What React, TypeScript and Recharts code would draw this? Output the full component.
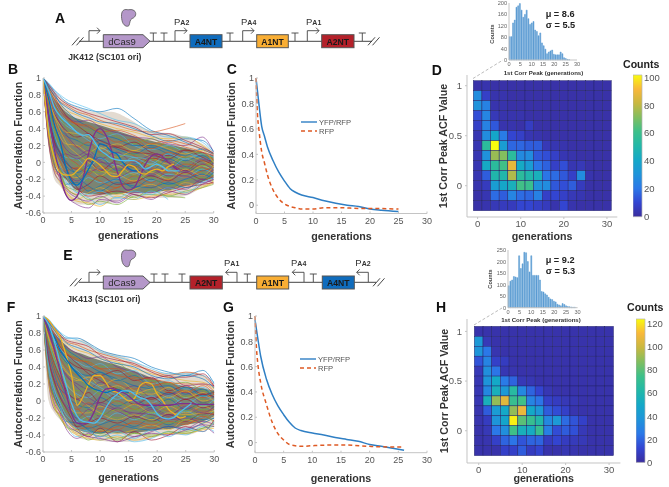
import React from 'react';
import {
    Area,
    Bar,
    BarChart,
    ComposedChart,
    Legend,
    Line,
    LineChart,
    Scatter,
    ScatterChart,
    XAxis,
    YAxis,
} from 'recharts';

// shared x positions of the thin background traces (generations)
const traceGens = [0, 1, 2, 3, 4, 6, 8, 10, 13, 16, 19, 22, 25, 28, 30];
const traceColors = ['#0072BD', '#D95319', '#EDB120', '#7E2F8E', '#77AC30', '#4DBEEF', '#A2142F'];

const bandGens = [0, 1, 2, 3, 4, 5, 7, 9, 12, 15, 18, 20, 23, 25, 28, 30];
const bOuterHigh = [1, 0.93, 0.84, 0.77, 0.72, 0.68, 0.63, 0.6, 0.6, 0.52, 0.4, 0.36, 0.34, 0.3, 0.22, 0.13];
const bOuterLow = [1, 0.2, -0.2, -0.28, -0.38, -0.46, -0.5, -0.5, -0.48, -0.42, -0.42, -0.42, -0.42, -0.4, -0.3, -0.25];
const bInnerHigh = [1, 0.88, 0.76, 0.67, 0.6, 0.55, 0.5, 0.46, 0.4, 0.33, 0.27, 0.24, 0.2, 0.17, 0.12, 0.08];
const bInnerLow = [1, 0.3, 0, -0.12, -0.2, -0.28, -0.36, -0.38, -0.38, -0.36, -0.36, -0.35, -0.32, -0.28, -0.23, -0.18];
const fOuterHigh = [1, 0.95, 0.87, 0.8, 0.74, 0.72, 0.72, 0.63, 0.56, 0.5, 0.4, 0.34, 0.33, 0.34, 0.3, 0.2];
const fOuterLow = [1, 0.0, -0.14, -0.22, -0.3, -0.36, -0.45, -0.46, -0.48, -0.48, -0.46, -0.42, -0.4, -0.4, -0.34, -0.3];
const fInnerHigh = [1, 0.9, 0.8, 0.72, 0.66, 0.6, 0.55, 0.5, 0.44, 0.38, 0.3, 0.25, 0.2, 0.17, 0.15, 0.12];
const fInnerLow = [1, 0.25, 0.02, -0.1, -0.2, -0.28, -0.36, -0.38, -0.38, -0.38, -0.36, -0.34, -0.32, -0.28, -0.24, -0.18];

const bTraces = [
    [1, 0.93, 0.85, 0.78, 0.72, 0.66, 0.62, 0.6, 0.64, 0.52, 0.38, 0.32, 0.24, 0.15, 0.1],
    [1, 0.9, 0.8, 0.72, 0.68, 0.6, 0.56, 0.5, 0.44, 0.38, 0.36, 0.4, 0.46, null, null],
    [1, 0.88, 0.76, 0.68, 0.62, 0.56, 0.5, 0.46, 0.4, 0.36, 0.3, 0.28, 0.3, 0.2, 0.1],
    [1, 0.85, 0.7, 0.6, 0.55, 0.48, 0.5, 0.42, 0.35, 0.3, 0.28, 0.22, 0.2, 0.3, 0.12],
    [1, 0.82, 0.66, 0.55, 0.48, 0.42, 0.38, 0.4, 0.3, 0.22, 0.28, 0.18, 0.15, 0.1, 0.05],
    [1, 0.8, 0.6, 0.5, 0.44, 0.36, 0.3, 0.28, 0.34, 0.2, 0.15, 0.2, 0.12, 0.05, 0.02],
    [1, 0.78, 0.58, 0.46, 0.38, 0.3, 0.34, 0.22, 0.18, 0.24, 0.12, 0.08, 0.15, 0.06, 0],
    [1, 0.75, 0.52, 0.4, 0.32, 0.26, 0.2, 0.26, 0.16, 0.1, 0.18, 0.1, 0.02, 0.08, -0.02],
    [1, 0.72, 0.5, 0.36, 0.3, 0.18, 0.24, 0.12, 0.2, 0.08, 0.02, 0.12, 0.05, -0.03, 0.04],
    [1, 0.7, 0.46, 0.3, 0.22, 0.2, 0.12, 0.18, 0.06, 0.14, 0.06, -0.02, 0.08, 0.02, -0.05],
    [1, 0.66, 0.42, 0.28, 0.16, 0.08, 0.14, 0.04, 0.12, 0, 0.08, 0.02, -0.06, 0.04, -0.02],
    [1, 0.62, 0.36, 0.22, 0.14, 0.02, 0.08, -0.02, 0.06, 0.1, -0.04, 0.06, 0, -0.08, 0.03],
    [1, 0.6, 0.32, 0.16, 0.06, 0.04, -0.06, 0.05, -0.04, 0.06, 0.02, -0.08, 0.04, -0.04, -0.08],
    [1, 0.56, 0.26, 0.12, 0, -0.08, 0.02, -0.1, 0.02, -0.06, 0.05, 0, -0.1, 0.02, -0.04],
    [1, 0.52, 0.22, 0.06, -0.04, -0.12, -0.04, 0.06, -0.1, -0.02, -0.1, 0.04, -0.05, -0.1, -0.06],
    [1, 0.48, 0.18, 0.02, -0.1, -0.06, -0.14, -0.04, -0.12, 0.02, -0.06, -0.12, -0.02, -0.06, -0.12],
    [1, 0.44, 0.14, -0.02, -0.14, -0.18, -0.08, -0.16, -0.04, -0.14, -0.02, -0.08, -0.14, -0.04, -0.1],
    [1, 0.4, 0.1, -0.06, -0.12, -0.22, -0.12, -0.08, -0.18, -0.1, -0.16, -0.06, -0.1, -0.16, -0.08],
    [1, 0.36, 0.05, -0.1, -0.2, -0.14, -0.22, -0.18, -0.1, -0.2, -0.1, -0.18, -0.06, -0.12, -0.16],
    [1, 0.32, 0.02, -0.12, -0.24, -0.28, -0.18, -0.24, -0.2, -0.12, -0.22, -0.14, -0.18, -0.08, -0.14],
    [1, 0.28, -0.02, -0.16, -0.18, -0.32, -0.26, -0.16, -0.26, -0.24, -0.16, -0.22, -0.12, -0.2, -0.18],
    [1, 0.25, -0.05, -0.14, -0.26, -0.24, -0.34, -0.28, -0.2, -0.3, -0.2, -0.26, -0.2, -0.14, -0.2],
    [1, 0.22, -0.08, -0.18, -0.3, -0.38, -0.3, -0.36, -0.3, -0.22, -0.3, -0.2, -0.28, -0.22, -0.16],
    [1, 0.35, 0, -0.1, -0.34, -0.44, -0.36, -0.3, -0.38, -0.32, -0.26, -0.34, -0.24, -0.28, -0.22],
    [1, 0.3, -0.03, -0.2, -0.38, -0.5, -0.54, -0.44, -0.46, -0.36, -0.36, -0.3, -0.32, -0.2, -0.25],
    [1, 0.4, 0.08, -0.08, -0.28, -0.4, -0.5, -0.46, -0.5, -0.4, -0.38, -0.4, -0.42, null, null],
    [1, 0.45, 0.12, -0.05, -0.16, -0.36, -0.42, -0.5, -0.42, -0.44, -0.34, -0.44, null, null, null],
    [1, 0.55, 0.24, 0.1, -0.06, -0.3, -0.4, -0.38, -0.34, -0.38, -0.42, -0.36, -0.3, -0.26, -0.24],
    [1, 0.6, 0.3, 0.1, 0.02, -0.16, -0.28, -0.34, -0.24, -0.28, -0.3, -0.24, -0.3, -0.22, -0.12],
    [1, 0.68, 0.44, 0.26, 0.1, -0.02, -0.14, -0.22, -0.3, -0.16, -0.24, -0.1, -0.18, -0.1, -0.06],
    [1, 0.74, 0.54, 0.38, 0.24, 0.1, 0, -0.1, -0.14, -0.22, -0.12, -0.2, -0.08, -0.16, -0.04],
    [1, 0.8, 0.62, 0.46, 0.34, 0.18, 0.08, 0.02, -0.08, -0.04, -0.14, -0.04, -0.12, -0.02, -0.1],
    [1, 0.84, 0.68, 0.54, 0.42, 0.28, 0.16, 0.1, 0.02, -0.06, 0.04, -0.06, 0.06, -0.04, 0.02],
    [1, 0.86, 0.72, 0.6, 0.5, 0.36, 0.26, 0.18, 0.1, 0.06, -0.02, 0.1, 0.04, 0.1, 0.06],
    [1, 0.89, 0.78, 0.66, 0.56, 0.44, 0.34, 0.26, 0.18, 0.12, 0.1, 0.04, 0.14, 0.12, 0.08],
    [1, 0.91, 0.82, 0.7, 0.62, 0.5, 0.42, 0.34, 0.28, 0.2, 0.2, 0.14, 0.08, 0.16, 0.1],
    [1, 0.87, 0.74, 0.62, 0.54, 0.46, 0.44, 0.36, 0.24, 0.28, 0.16, 0.24, 0.18, 0.12, 0.03],
    [1, 0.77, 0.56, 0.44, 0.36, 0.34, 0.3, 0.16, 0.22, 0.14, 0.22, 0.16, 0.1, 0.14, -0.01],
    [1, 0.5, 0.2, 0.08, 0.1, 0.04, 0.1, 0, -0.02, -0.1, -0.08, -0.16, -0.16, -0.24, -0.2],
    [1, 0.65, 0.4, 0.2, 0.08, -0.04, -0.1, -0.12, -0.06, -0.16, -0.18, -0.28, -0.22, -0.18, -0.22],
    [1, 0.94, 0.86, 0.8, 0.75, 0.69, 0.64, 0.58, 0.5, 0.46, 0.36, 0.3, 0.3, 0.24, 0.12],
    [1, 0.92, 0.83, 0.75, 0.7, 0.63, 0.58, 0.54, 0.48, 0.42, 0.33, 0.34, 0.26, 0.18, 0.11],
    [1, 0.89, 0.79, 0.71, 0.66, 0.58, 0.53, 0.48, 0.46, 0.4, 0.32, 0.25, 0.28, 0.26, 0.13],
    [1, 0.84, 0.69, 0.59, 0.52, 0.45, 0.42, 0.36, 0.38, 0.32, 0.22, 0.26, 0.22, 0.16, 0.09],
    [1, 0.28, -0.1, -0.24, -0.36, -0.46, -0.48, -0.52, -0.4, -0.44, -0.4, -0.38, -0.36, -0.3, -0.24],
    [1, 0.25, -0.12, -0.22, -0.32, -0.42, -0.46, -0.4, -0.48, -0.38, -0.44, -0.34, -0.38, -0.26, -0.2],
    [1, 0.34, -0.04, -0.14, -0.28, -0.34, -0.44, -0.42, -0.36, -0.42, -0.32, -0.4, -0.34, -0.3, -0.26],
    [1, 0.38, 0.04, -0.12, -0.22, -0.36, -0.38, -0.34, -0.42, -0.34, -0.38, -0.3, -0.36, -0.24, -0.18],
];

const fTraces = [
    [1, 0.95, 0.87, 0.8, 0.74, 0.74, 0.68, 0.6, 0.54, 0.5, 0.4, 0.34, 0.3, 0.36, 0.2],
    [1, 0.93, 0.85, 0.78, 0.7, 0.66, 0.6, 0.56, 0.5, 0.42, 0.36, 0.3, 0.34, 0.3, 0.16],
    [1, 0.91, 0.82, 0.74, 0.68, 0.6, 0.56, 0.5, 0.46, 0.38, 0.32, 0.28, 0.24, 0.22, 0.14],
    [1, 0.9, 0.8, 0.7, 0.64, 0.56, 0.5, 0.52, 0.4, 0.34, 0.26, 0.3, 0.18, 0.2, 0.18],
    [1, 0.88, 0.76, 0.66, 0.6, 0.5, 0.46, 0.4, 0.44, 0.3, 0.24, 0.2, 0.22, 0.12, 0.1],
    [1, 0.86, 0.72, 0.62, 0.54, 0.46, 0.4, 0.44, 0.32, 0.36, 0.2, 0.24, 0.14, 0.16, 0.06],
    [1, 0.84, 0.7, 0.58, 0.5, 0.4, 0.36, 0.3, 0.36, 0.24, 0.28, 0.12, 0.18, 0.08, 0.1],
    [1, 0.82, 0.66, 0.54, 0.46, 0.34, 0.3, 0.34, 0.24, 0.3, 0.16, 0.18, 0.08, 0.14, 0.02],
    [1, 0.8, 0.62, 0.5, 0.4, 0.3, 0.24, 0.28, 0.2, 0.14, 0.22, 0.1, 0.12, 0.04, 0.08],
    [1, 0.78, 0.6, 0.46, 0.36, 0.24, 0.28, 0.18, 0.26, 0.12, 0.08, 0.16, 0.04, 0.1, -0.02],
    [1, 0.76, 0.56, 0.42, 0.3, 0.2, 0.14, 0.22, 0.1, 0.18, 0.04, 0.08, 0.1, -0.02, 0.04],
    [1, 0.72, 0.52, 0.38, 0.26, 0.12, 0.18, 0.08, 0.16, 0.04, 0.12, 0, 0.06, 0.02, -0.06],
    [1, 0.7, 0.48, 0.32, 0.2, 0.08, 0.04, 0.12, 0.02, 0.1, -0.02, 0.06, -0.04, 0.06, 0],
    [1, 0.66, 0.44, 0.28, 0.14, 0.02, 0.1, -0.02, 0.08, -0.04, 0.04, -0.06, 0.02, -0.08, -0.04],
    [1, 0.62, 0.38, 0.22, 0.08, -0.04, -0.08, 0.04, -0.06, 0.02, -0.08, 0.02, -0.1, -0.02, -0.08],
    [1, 0.58, 0.34, 0.16, 0.04, -0.1, -0.02, -0.1, 0, -0.1, -0.02, -0.12, -0.04, -0.12, -0.1],
    [1, 0.54, 0.28, 0.1, -0.02, -0.14, -0.14, -0.06, -0.12, -0.04, -0.14, -0.06, -0.14, -0.06, -0.12],
    [1, 0.5, 0.24, 0.06, -0.06, -0.2, -0.1, -0.18, -0.08, -0.16, -0.08, -0.16, -0.08, -0.16, -0.06],
    [1, 0.46, 0.2, 0.02, -0.12, -0.16, -0.22, -0.14, -0.2, -0.1, -0.18, -0.1, -0.18, -0.1, -0.14],
    [1, 0.42, 0.14, -0.02, -0.16, -0.24, -0.18, -0.26, -0.14, -0.22, -0.14, -0.22, -0.12, -0.2, -0.1],
    [1, 0.38, 0.1, -0.06, -0.2, -0.3, -0.26, -0.2, -0.26, -0.18, -0.24, -0.16, -0.24, -0.14, -0.16],
    [1, 0.34, 0.06, -0.1, -0.24, -0.26, -0.32, -0.28, -0.22, -0.3, -0.2, -0.28, -0.18, -0.22, -0.2],
    [1, 0.3, 0.02, -0.14, -0.22, -0.34, -0.3, -0.36, -0.3, -0.26, -0.32, -0.24, -0.28, -0.18, -0.24],
    [1, 0.26, -0.04, -0.18, -0.28, -0.38, -0.4, -0.34, -0.38, -0.34, -0.28, -0.34, -0.22, -0.26, -0.18],
    [1, 0.2, -0.1, -0.16, -0.32, -0.44, -0.38, -0.42, -0.34, -0.42, -0.36, -0.3, -0.32, -0.24, -0.28],
    [1, 0.24, -0.06, -0.2, -0.3, -0.36, -0.46, -0.4, -0.46, -0.38, -0.4, -0.38, -0.36, -0.32, -0.3],
    [1, 0.4, 0.12, -0.04, -0.26, -0.42, -0.34, -0.46, -0.4, -0.48, -0.44, -0.36, -0.4, -0.3, -0.36],
    [1, 0.48, 0.22, 0.04, -0.08, -0.32, -0.42, -0.32, -0.48, -0.36, -0.46, -0.4, -0.3, -0.36, -0.22],
    [1, 0.56, 0.3, 0.12, -0.02, -0.22, -0.34, -0.38, -0.28, -0.32, -0.34, -0.3, -0.34, -0.26, -0.2],
    [1, 0.64, 0.4, 0.24, 0.1, -0.08, -0.22, -0.3, -0.34, -0.24, -0.28, -0.2, -0.26, -0.2, -0.14],
    [1, 0.74, 0.54, 0.36, 0.22, 0.06, -0.06, -0.14, -0.22, -0.16, -0.22, -0.14, -0.16, -0.14, -0.12],
    [1, 0.79, 0.6, 0.44, 0.32, 0.16, 0.04, -0.04, -0.12, -0.2, -0.1, -0.18, -0.06, -0.14, -0.06],
    [1, 0.83, 0.68, 0.54, 0.44, 0.28, 0.16, 0.08, -0.02, -0.08, -0.14, -0.04, -0.12, -0.02, -0.08],
    [1, 0.85, 0.72, 0.6, 0.48, 0.36, 0.24, 0.16, 0.06, 0, 0.06, -0.06, 0.04, -0.06, 0.02],
    [1, 0.87, 0.76, 0.64, 0.56, 0.44, 0.32, 0.24, 0.14, 0.08, 0.02, 0.1, 0.02, 0.08, 0.05],
    [1, 0.92, 0.84, 0.72, 0.62, 0.52, 0.42, 0.34, 0.26, 0.18, 0.14, 0.08, 0.16, 0.06, 0.12],
    [1, 0.89, 0.78, 0.68, 0.58, 0.48, 0.46, 0.38, 0.3, 0.26, 0.18, 0.22, 0.1, 0.18, 0.07],
    [1, 0.75, 0.58, 0.44, 0.34, 0.26, 0.2, 0.12, 0.18, 0.08, 0.14, 0.04, 0.12, 0, 0.03],
    [1, 0.52, 0.26, 0.14, 0.08, 0.02, -0.04, -0.02, -0.1, -0.14, -0.16, -0.22, -0.2, -0.28, -0.38],
    [1, 0.68, 0.46, 0.3, 0.16, 0, -0.12, -0.16, -0.1, -0.2, -0.24, -0.26, -0.22, -0.16, -0.26],
    [1, 0.96, 0.88, 0.81, 0.76, 0.72, 0.66, 0.58, 0.52, 0.46, 0.38, 0.32, 0.32, 0.3, 0.22],
    [1, 0.94, 0.86, 0.77, 0.72, 0.68, 0.64, 0.54, 0.48, 0.44, 0.34, 0.28, 0.28, 0.32, 0.17],
    [1, 0.92, 0.83, 0.76, 0.69, 0.63, 0.58, 0.5, 0.44, 0.4, 0.3, 0.26, 0.3, 0.26, 0.15],
    [1, 0.86, 0.74, 0.64, 0.56, 0.5, 0.44, 0.38, 0.38, 0.28, 0.26, 0.22, 0.2, 0.2, 0.11],
    [1, 0.22, -0.08, -0.18, -0.3, -0.4, -0.44, -0.46, -0.42, -0.46, -0.42, -0.38, -0.38, -0.34, -0.32],
    [1, 0.28, -0.02, -0.14, -0.26, -0.36, -0.42, -0.44, -0.48, -0.42, -0.38, -0.4, -0.34, -0.28, -0.3],
    [1, 0.32, 0.04, -0.12, -0.22, -0.34, -0.4, -0.38, -0.44, -0.38, -0.42, -0.36, -0.38, -0.32, -0.26],
    [1, 0.36, 0.08, -0.08, -0.2, -0.32, -0.36, -0.42, -0.36, -0.44, -0.34, -0.42, -0.32, -0.36, -0.24],
];

// the four emphasised traces, one value per generation
const bPurple = [1, 0.55, 0.15, -0.15, -0.38, -0.45, -0.4, -0.2, 0.1, 0.33, 0.4, 0.33, 0.15, -0.1, -0.28, -0.33, -0.3, -0.17, -0.02, 0.07, 0.1, 0.07, 0, -0.05, -0.12];
const bBlue = [1, 0.75, 0.45, 0.25, -0.05, -0.22, -0.27, -0.2, -0.08, 0.05, 0.22, 0.2, 0.13, 0.1, 0, -0.07, -0.1, -0.1];
const bYellow = [1, 0.35, 0.05, -0.12, -0.15, -0.15, -0.1, -0.03, 0.05, 0.02, -0.03, -0.1, -0.16, -0.17, -0.1, -0.03, -0.05, -0.12, -0.14, -0.1, -0.08, -0.1, -0.05, -0.02];
const bCyan = [1, 0.85, 0.65, 0.55, 0.48, 0.42, 0.35, 0.32, 0.33, 0.25, 0.15, 0.1, 0.05, 0.03, 0.02, 0.02, 0.02, -0.02, -0.08, -0.05, -0.02, -0.05, -0.1, -0.1, -0.1];
const fPurple = [1, 0.82, 0.6, 0.35, 0.1, -0.15, -0.26, -0.27, -0.24, -0.12, 0.05, 0.14, 0.15, 0.12, 0.1, 0.06, 0, -0.04, -0.05, -0.05, -0.05, -0.05, -0.05, -0.04, -0.03, -0.03, -0.03, -0.04, -0.04, -0.04, -0.04];
const fBlue = [1, 0.85, 0.75, 0.6, 0.5, 0.4, 0.32, 0.25, 0.18, 0.14, 0.12, 0.1, 0.12, 0.13, 0.12, 0.1];
const fYellow = [1, 0.95, 0.85, 0.75, 0.55, 0.3, -0.05, 0.05, 0.2, 0.3, 0.3, 0.22, 0.12, 0.1, 0.05, 0, 0.03, 0.18, 0.22, 0.2, 0.08, 0, -0.1, -0.15, -0.2, -0.18];
const fCyan = [1, 0.9, 0.7, 0.45, 0.2, -0.03, -0.18, -0.24, -0.25, -0.26, -0.2, -0.08, 0.02, 0.08, 0.12, 0.12, 0.08, 0.04, 0.02, -0.05, -0.15, -0.2, -0.21, -0.19, -0.13, -0.08, -0.03];

// mean ACF curves
const cYfpGens = [0, 0.5, 1, 1.5, 2, 3, 4, 5, 6, 7, 8, 10, 12, 14, 16, 18, 20, 22, 25];
const cYfp = [1, 0.8, 0.62, 0.54, 0.46, 0.35, 0.26, 0.19, 0.13, 0.1, 0.08, 0.06, 0.035, 0.015, 0, -0.01, -0.03, -0.04, -0.05];
const cRfpGens = [0, 0.25, 0.5, 1, 1.5, 2, 3, 4, 5, 6, 7, 8, 10, 12, 15, 18, 20, 25];
const cRfp = [1, 0.72, 0.6, 0.42, 0.33, 0.24, 0.12, 0.05, 0.01, -0.01, -0.02, -0.03, -0.03, -0.02, -0.02, -0.025, -0.025, -0.03];
const gYfpGens = [0, 0.5, 1, 2, 3, 4, 5, 6, 7, 8, 10, 12, 14, 16, 18, 20, 22, 24, 26];
const gYfp = [0.97, 0.82, 0.68, 0.5, 0.38, 0.29, 0.22, 0.16, 0.115, 0.095, 0.075, 0.06, 0.04, 0.025, 0.01, -0.015, -0.03, -0.045, -0.06];
const gRfpGens = [0, 0.25, 0.5, 1, 2, 3, 4, 5, 6, 7, 8, 10, 13, 16, 20, 24, 26];
const gRfp = [1, 0.75, 0.62, 0.47, 0.3, 0.16, 0.07, 0.02, -0.015, -0.025, -0.03, -0.025, -0.02, -0.02, -0.03, -0.035, -0.035];

// 2D histogram bins: rows run from ACF 1.0 down to -0.2, columns from 0 to 30 generations
const heatGens = [0, 2, 4, 6, 8, 10, 12, 14, 16, 18, 20, 22, 24, 26, 28, 30];
const heatAcf = [1, 0.9, 0.8, 0.7, 0.6, 0.5, 0.4, 0.3, 0.2, 0.1, 0, -0.1, -0.2];
const dCounts = [
    [2, 3, 2, 2, 2, 2, 2, 2, 2, 2, 2, 2, 2, 2, 2, 2],
    [28, 8, 3, 3, 2, 2, 2, 2, 2, 2, 2, 2, 2, 2, 2, 2],
    [30, 24, 3, 3, 2, 2, 2, 2, 2, 2, 2, 2, 2, 2, 2, 2],
    [12, 25, 5, 3, 3, 3, 2, 2, 2, 2, 2, 2, 2, 2, 2, 2],
    [8, 24, 14, 3, 3, 2, 7, 2, 2, 2, 2, 2, 2, 2, 2, 2],
    [4, 28, 40, 22, 10, 8, 4, 3, 2, 2, 2, 2, 2, 2, 2, 2],
    [4, 55, 102, 35, 17, 17, 15, 15, 5, 4, 3, 2, 2, 2, 2, 2],
    [4, 30, 75, 72, 55, 27, 28, 14, 12, 8, 4, 3, 2, 2, 2, 2],
    [4, 42, 55, 62, 88, 42, 35, 20, 16, 8, 12, 4, 5, 2, 2, 2],
    [4, 15, 50, 50, 78, 55, 50, 45, 20, 18, 14, 8, 28, 3, 2, 2],
    [3, 6, 35, 40, 45, 62, 60, 30, 28, 14, 12, 15, 6, 2, 2, 2],
    [2, 4, 18, 15, 25, 18, 17, 24, 8, 10, 8, 5, 4, 2, 2, 2],
    [2, 3, 5, 6, 6, 10, 10, 8, 6, 3, 10, 3, 2, 2, 2, 2],
];
const hCounts = [
    [3, 3, 3, 3, 3, 3, 3, 3, 3, 3, 3, 3, 3, 3, 3, 3],
    [40, 6, 3, 3, 3, 3, 3, 3, 3, 3, 3, 3, 3, 3, 3, 3],
    [38, 25, 4, 3, 3, 3, 3, 3, 3, 3, 3, 3, 3, 3, 3, 3],
    [16, 30, 10, 8, 3, 3, 3, 3, 3, 3, 3, 3, 3, 3, 3, 3],
    [6, 35, 24, 5, 4, 3, 3, 3, 3, 3, 3, 3, 3, 3, 3, 3],
    [5, 38, 50, 26, 20, 6, 5, 3, 3, 3, 3, 3, 3, 3, 3, 3],
    [5, 32, 55, 40, 65, 32, 20, 12, 5, 3, 3, 3, 3, 3, 3, 3],
    [5, 55, 90, 105, 72, 75, 30, 24, 10, 8, 6, 5, 3, 3, 3, 3],
    [4, 18, 42, 50, 90, 108, 50, 40, 18, 14, 10, 4, 3, 3, 3, 3],
    [4, 8, 38, 48, 122, 80, 72, 62, 32, 40, 22, 16, 10, 3, 3, 3],
    [3, 6, 25, 35, 75, 55, 52, 72, 28, 14, 18, 15, 6, 3, 3, 3],
    [3, 4, 10, 20, 24, 16, 20, 20, 8, 12, 8, 7, 6, 3, 3, 3],
    [3, 3, 3, 10, 10, 18, 8, 12, 3, 3, 5, 4, 3, 3, 3, 3],
];

// inset histograms of the first peak position, bins 0.75 generations wide
const histGens = [0.375, 1.125, 1.875, 2.625, 3.375, 4.125, 4.875, 5.625, 6.375, 7.125, 7.875, 8.625, 9.375, 10.125, 10.875, 11.625, 12.375, 13.125, 13.875, 14.625, 15.375, 16.125, 16.875, 17.625, 18.375, 19.125, 19.875, 20.625, 21.375, 22.125, 22.875, 23.625, 24.375, 25.125, 25.875, 26.625, 27.375, 28.125, 28.875];
const dHist = [82, 82, 130, 140, 185, 190, 198, 175, 150, 160, 175, 145, 125, 130, 135, 105, 100, 85, 95, 60, 50, 38, 22, 28, 32, 35, 20, 18, 18, 18, 28, 22, 8, 5, 2, 1, 0, 0, 0];
const hHist = [95, 115, 120, 135, 133, 130, 225, 170, 190, 240, 238, 200, 155, 225, 140, 140, 140, 140, 120, 70, 68, 60, 55, 45, 38, 35, 28, 25, 15, 12, 8, 18, 14, 8, 5, 4, 3, 2, 2];

const acfTicks = [-0.6, -0.4, -0.2, 0, 0.2, 0.4, 0.6, 0.8, 1];
const decayTicks = [0, 0.2, 0.4, 0.6, 0.8, 1];
const genTicks = [0, 5, 10, 15, 20, 25, 30];
const heatGenTicks = [0, 10, 20, 30];
const heatAcfTicks = [0, 0.5, 1];
const dBarTicks = [0, 20, 40, 60, 80, 100];
const hBarTicks = [0, 20, 40, 60, 80, 100, 120];
const dHistTicks = [0, 40, 80, 120, 160, 200];
const hHistTicks = [0, 50, 100, 150, 200, 250];

const FONT = '"Liberation Sans", Arial, sans-serif';
const tickStyle = { fontSize: 9, fill: '#555', fontFamily: FONT };
const labelStyle = { fontSize: 10.7, fontWeight: 700, fill: '#333', fontFamily: FONT, textAnchor: 'middle' as const };
const BOX = '#c4c4c4';

const parulaStops = ['#3A2D9E', '#3345D2', '#2B78E8', '#1F94DA', '#14A8C8', '#22B8A8', '#3CC08A', '#80BE60', '#C8B840', '#F9B83A', '#F9FB0E'];

function parula(t: number) {
    const p = Math.min(Math.max(t, 0), 1) * (parulaStops.length - 1);
    const i = Math.min(Math.floor(p), parulaStops.length - 2);
    const f = p - i;
    const a = parseInt(parulaStops[i].slice(1), 16);
    const b = parseInt(parulaStops[i + 1].slice(1), 16);
    const mix = (s: number) => Math.round(((a >> s) & 255) * (1 - f) + ((b >> s) & 255) * f);
    return `rgb(${mix(16)},${mix(8)},${mix(0)})`;
}

const toRows = (xs: number[], ys: (number | null)[]) =>
    xs.map((x, i) => ({ x, y: ys[i] })).filter((r) => r.y !== null);

const perGen = (ys: number[]) => ys.map((y, i) => ({ x: i, y }));

const PAD_LEFT = 44;
const PAD_TOP = 6;
const PAD_RIGHT = 8;
const AXIS_H = 34;

// places a chart so that its plot area falls on the given page rectangle
const place = (l: number, t: number, r: number, b: number) => ({
    wrap: { position: 'absolute' as const, left: l - PAD_LEFT, top: t - PAD_TOP },
    width: r - l + PAD_LEFT + PAD_RIGHT,
    height: b - t + PAD_TOP + AXIS_H,
    margin: { top: PAD_TOP, right: PAD_RIGHT, bottom: 0, left: 0 },
});

function boxAxes(xDomain: number[], yDomain: number[], xTicks: number[], yTicks: number[]) {
    return [
        <XAxis key="tx" xAxisId="top" orientation="top" type="number" domain={xDomain} ticks={xTicks} height={0} stroke={BOX} tick={false} tickSize={-2} />,
        <YAxis key="ry" yAxisId="right" orientation="right" type="number" domain={yDomain} ticks={yTicks} width={0} stroke={BOX} tick={false} tickSize={-2} />,
    ];
}

function SpaghettiPanel({ rect, high, low, innerHigh, innerLow, traces, lines, xLabelOffset }: any) {
    const p = place(rect[0], rect[1], rect[2], rect[3]);
    const outer = bandGens.map((x, i) => ({ x, range: [low[i], high[i]] }));
    const inner = bandGens.map((x, i) => ({ x, range: [innerLow[i], innerHigh[i]] }));
    return (
        <div style={p.wrap}>
            <ComposedChart width={p.width} height={p.height} margin={p.margin}>
                {boxAxes([0, 30], [-0.6, 1], genTicks, acfTicks)}
                <XAxis
                    dataKey="x"
                    type="number"
                    domain={[0, 30]}
                    ticks={genTicks}
                    height={AXIS_H}
                    stroke={BOX}
                    tickSize={-2}
                    tickMargin={6}
                    tick={tickStyle}
                    allowDataOverflow
                    label={{ value: 'generations', position: 'insideBottom', offset: xLabelOffset, style: labelStyle }}
                />
                <YAxis
                    type="number"
                    domain={[-0.6, 1]}
                    ticks={acfTicks}
                    width={PAD_LEFT}
                    stroke={BOX}
                    tickSize={-2}
                    tickMargin={4}
                    tick={tickStyle}
                    allowDataOverflow
                    label={{ value: 'Autocorrelation Function', angle: -90, position: 'insideLeft', offset: 19, style: labelStyle }}
                />
                <Area data={outer} dataKey="range" type="monotone" stroke="none" fill="#b8a68c" fillOpacity={0.4} dot={false} isAnimationActive={false} />
                <Area data={inner} dataKey="range" type="monotone" stroke="none" fill="#6f7a68" fillOpacity={0.9} dot={false} isAnimationActive={false} />
                {traces.map((t: (number | null)[], i: number) => (
                    <Line
                        key={i}
                        data={toRows(traceGens, t)}
                        dataKey="y"
                        type="monotone"
                        stroke={traceColors[i % traceColors.length]}
                        strokeWidth={0.8}
                        strokeOpacity={0.75}
                        dot={false}
                        isAnimationActive={false}
                    />
                ))}
                {lines.map((l: any) => (
                    <Line
                        key={l.color}
                        data={perGen(l.values)}
                        dataKey="y"
                        type="monotone"
                        stroke={l.color}
                        strokeWidth={1.3}
                        dot={false}
                        isAnimationActive={false}
                    />
                ))}
            </ComposedChart>
        </div>
    );
}

function DecayPanel({ rect, yMin, yfp, rfp, legendTop, xLabelOffset }: any) {
    const p = place(rect[0], rect[1], rect[2], rect[3]);
    const boxTicks = [-0.05, 0, 0.05, 0.1, 0.2, 0.3, 0.4, 0.5, 0.6, 0.7, 0.8, 0.9, 1].filter((v) => v > yMin);
    return (
        <div style={p.wrap}>
            <LineChart width={p.width} height={p.height} margin={p.margin}>
                {boxAxes([0, 30], [yMin, 1], genTicks, boxTicks)}
                <XAxis
                    dataKey="x"
                    type="number"
                    domain={[0, 30]}
                    ticks={genTicks}
                    height={AXIS_H}
                    stroke={BOX}
                    tickSize={-2}
                    tickMargin={6}
                    tick={tickStyle}
                    label={{ value: 'generations', position: 'insideBottom', offset: xLabelOffset, style: labelStyle }}
                />
                <YAxis
                    type="number"
                    domain={[yMin, 1]}
                    ticks={decayTicks}
                    width={PAD_LEFT}
                    stroke={BOX}
                    tickSize={-2}
                    tickMargin={4}
                    tick={tickStyle}
                    label={{ value: 'Autocorrelation Function', angle: -90, position: 'insideLeft', offset: 19, style: labelStyle }}
                />
                <Line data={yfp} dataKey="y" name="YFP/RFP" type="monotone" stroke="#2F7FC4" strokeWidth={1.5} dot={false} isAnimationActive={false} />
                <Line data={rfp} dataKey="y" name="RFP" type="monotone" stroke="#DE5A24" strokeWidth={1.5} strokeDasharray="4 3" dot={false} isAnimationActive={false} />
                <Legend
                    layout="vertical"
                    align="center"
                    verticalAlign="middle"
                    itemSorter={null}
                    wrapperStyle={{ left: 88, top: legendTop, width: 70 }}
                    content={(lp: any) => (
                        <svg width={70} height={20} style={{ display: 'block' }}>
                            {lp.payload.map((item: any, i: number) => (
                                <g key={item.value}>
                                    <line
                                        x1={1}
                                        x2={17}
                                        y1={5 + i * 9}
                                        y2={5 + i * 9}
                                        stroke={item.color}
                                        strokeWidth={1.4}
                                        strokeDasharray={i === 1 ? '4 3' : undefined}
                                    />
                                    <text x={19} y={7.8 + i * 9} fontSize={7.6} fill="#555" fontFamily={FONT}>
                                        {item.value}
                                    </text>
                                </g>
                            ))}
                        </svg>
                    )}
                />
            </LineChart>
        </div>
    );
}

function HeatPanel({ rect, xDomain, yDomain, counts, max, cellW, cellH, xLabelOffset, yLabelOffset }: any) {
    const p = place(rect[0], rect[1], rect[2], rect[3]);
    const cells = counts.flatMap((row: number[], r: number) =>
        row.map((c, k) => ({ x: heatGens[k], y: heatAcf[r], c })),
    );
    return (
        <div style={p.wrap}>
            <ScatterChart width={p.width} height={p.height} margin={p.margin}>
                <XAxis
                    dataKey="x"
                    type="number"
                    domain={xDomain}
                    ticks={heatGenTicks}
                    height={AXIS_H}
                    stroke={BOX}
                    tickSize={2}
                    tickMargin={1}
                    tick={{ ...tickStyle, fontSize: 9.5 }}
                    allowDataOverflow
                    label={{ value: 'generations', position: 'insideBottom', offset: xLabelOffset, style: labelStyle }}
                />
                <YAxis
                    dataKey="y"
                    type="number"
                    domain={yDomain}
                    ticks={heatAcfTicks}
                    width={PAD_LEFT}
                    stroke={BOX}
                    tickSize={2}
                    tickMargin={3}
                    tick={{ ...tickStyle, fontSize: 9.5 }}
                    allowDataOverflow
                    label={{ value: '1st Corr Peak ACF Value', angle: -90, position: 'insideLeft', offset: yLabelOffset, style: labelStyle }}
                />
                <Scatter
                    data={cells}
                    isAnimationActive={false}
                    shape={(s: any) => (
                        <rect
                            x={s.cx - cellW / 2}
                            y={s.cy - cellH / 2}
                            width={cellW}
                            height={cellH}
                            fill={parula(s.payload.c / max)}
                            stroke="#24246a"
                            strokeWidth={0.5}
                        />
                    )}
                />
            </ScatterChart>
        </div>
    );
}

function ColorBar({ id, left, top, width, height, max, ticks }: any) {
    return (
        <div style={{ position: 'absolute', left, top }}>
            <BarChart
                width={width + 30}
                height={height + 12}
                data={[{ name: 'Counts', span: [0, max] }]}
                margin={{ top: 6, right: 0, bottom: 6, left: 0 }}
                barCategoryGap={0}
            >
                <defs>
                    <linearGradient id={id} x1="0" y1="1" x2="0" y2="0">
                        {parulaStops.map((c, i) => (
                            <stop key={c} offset={i / (parulaStops.length - 1)} stopColor={c} />
                        ))}
                    </linearGradient>
                </defs>
                <XAxis dataKey="name" hide />
                <YAxis
                    orientation="right"
                    type="number"
                    domain={[0, max]}
                    ticks={ticks}
                    width={30}
                    axisLine={false}
                    tickSize={0}
                    tickMargin={2}
                    tick={{ ...tickStyle, fontSize: 9.5 }}
                />
                <Bar dataKey="span" fill={`url(#${id})`} stroke="#b5b5b5" strokeWidth={0.7} isAnimationActive={false} />
            </BarChart>
        </div>
    );
}

function Inset({ rect, gens, counts, yMax, ticks }: any) {
    const [l, t, r, b] = rect;
    const tick = { fontSize: 5.6, fill: '#666', fontFamily: FONT };
    const rows = gens.map((x: number, i: number) => ({ x, n: counts[i] }));
    return (
        <div style={{ position: 'absolute', left: l - 16, top: t - 4 }}>
            <BarChart width={r - l + 20} height={b - t + 14} data={rows} margin={{ top: 4, right: 4, bottom: 0, left: 0 }} barGap={0}>
                <XAxis xAxisId="top" orientation="top" type="number" dataKey="x" domain={[0, 30]} height={0} tick={false} tickLine={false} stroke={BOX} />
                <YAxis yAxisId="right" orientation="right" type="number" domain={[0, yMax]} width={0} tick={false} tickLine={false} stroke={BOX} />
                <XAxis dataKey="x" type="number" domain={[0, 30]} ticks={genTicks} height={10} stroke={BOX} tickSize={0} tickMargin={2} tick={tick} interval={0} />
                <YAxis type="number" domain={[0, yMax]} ticks={ticks} width={16} stroke={BOX} tickSize={0} tickMargin={2} tick={tick} interval={0} />
                <Bar dataKey="n" fill="#5A9BD2" stroke="#5A9BD2" strokeWidth={0.5} isAnimationActive={false} />
            </BarChart>
        </div>
    );
}

function Terminator({ x, y }: { x: number; y: number }) {
    return <path d={`M${x} ${y} V${y - 8} M${x - 3.5} ${y - 8} H${x + 3.5}`} stroke="#444" strokeWidth={0.9} fill="none" />;
}

function Promoter({ x, y, to, top, label, labelX }: any) {
    const dir = to > x ? -1 : 1;
    return (
        <g>
            <path d={`M${x} ${y} V${top} H${to}`} stroke="#444" strokeWidth={0.9} fill="none" />
            <path d={`M${to + dir * 3} ${top - 3} L${to} ${top} L${to + dir * 3} ${top + 3}`} stroke="#444" strokeWidth={0.9} fill="none" />
            {label && (
                <text x={labelX} y={top - 6} fontSize={9.5} fill="#333" fontFamily={FONT}>
                    P<tspan fontSize={7} fontWeight={700}>{label}</tspan>
                </text>
            )}
        </g>
    );
}

function Gene({ x, y, w, fill, name, color }: any) {
    return (
        <g>
            <rect x={x} y={y} width={w} height={13} fill={fill} stroke="#555" strokeWidth={1} />
            <text x={x + w / 2} y={y + 9.8} fontSize={8.6} fontWeight={700} textAnchor="middle" fill={color || '#1a1a1a'} fontFamily={FONT}>
                {name}
            </text>
        </g>
    );
}

function Cas9({ y, blobY }: { y: number; blobY: number }) {
    return (
        <g>
            <path d={`M103.3 ${y} H143 L150 ${y + 6.5} L143 ${y + 13} H103.3 Z`} fill="#B497C9" stroke="#555" strokeWidth={1} />
            <text x={122} y={y + 10} fontSize={9.5} textAnchor="middle" fill="#2a2a2a" fontFamily={FONT}>dCas9</text>
            <path
                transform={`translate(0 ${blobY})`}
                d="M126 1 C121 1 121 7 122 12 C123 17 127 19 129 17 C130 14 130 11 132 10 C136 9 137 4 134 2 C131 0 129 2 126 1 Z"
                fill="#B497C9"
                stroke="#555"
                strokeWidth={0.8}
            />
        </g>
    );
}

function Hatch({ x, y }: { x: number; y: number }) {
    return <path d={`M${x} ${y + 4} L${x + 7} ${y - 4} M${x + 4.5} ${y + 4} L${x + 11.5} ${y - 4}`} stroke="#333" strokeWidth={0.9} fill="none" />;
}

const panelLetter = { fontSize: 14, fontWeight: 700, fill: '#111', fontFamily: FONT };

function Overlay() {
    return (
        <svg width={669} height={487} style={{ position: 'absolute', left: 0, top: 0, pointerEvents: 'none' }}>
            {/* construct A */}
            <path d="M79 41.3 H372" stroke="#444" strokeWidth={1} />
            <Hatch x={72} y={41.3} />
            <Hatch x={368} y={41.3} />
            <Promoter x={89} y={41} to={100} top={30.7} />
            <Cas9 y={34.7} blobY={8.5} />
            <Terminator x={153.3} y={41} />
            <Terminator x={164} y={41} />
            <Promoter x={175} y={41} to={187} top={30.7} label="A2" labelX={174} />
            <Gene x={190} y={34.7} w={32} fill="#0F6CBD" name="A4NT" />
            <Terminator x={230} y={41} />
            <Promoter x={242.7} y={41} to={254} top={30.7} label="A4" labelX={241} />
            <Gene x={256.7} y={34.7} w={31.6} fill="#F9AE34" name="A1NT" />
            <Terminator x={295} y={41} />
            <Promoter x={307.3} y={41} to={319} top={30.7} label="A1" labelX={306} />
            <Gene x={321.7} y={34.7} w={32.3} fill="#B4212A" name="A2NT" />
            <Terminator x={362.3} y={41} />
            <text x={68.3} y={60} fontSize={8.6} fontWeight={700} fill="#333" fontFamily={FONT}>JK412 (SC101 ori)</text>

            {/* construct E */}
            <path d="M79 282.3 H376" stroke="#444" strokeWidth={1} />
            <Hatch x={70} y={282.3} />
            <Hatch x={373} y={282.3} />
            <Promoter x={89} y={282} to={100} top={272.3} />
            <Cas9 y={276} blobY={249} />
            <Terminator x={154} y={282} />
            <Terminator x={165} y={282} />
            <Terminator x={182} y={282} />
            <Gene x={190} y={276} w={32.3} fill="#B4212A" name="A2NT" />
            <Promoter x={237} y={282} to={225.7} top={272.3} label="A1" labelX={224} />
            <Terminator x={247.3} y={282} />
            <Gene x={256.7} y={276} w={32} fill="#F9AE34" name="A1NT" />
            <Promoter x={304} y={282} to={292.3} top={272.3} label="A4" labelX={291} />
            <Terminator x={313.3} y={282} />
            <Gene x={322.3} y={276} w={32} fill="#0F6CBD" name="A4NT" />
            <Promoter x={368.3} y={282} to={356.7} top={272.3} label="A2" labelX={355.3} />
            <text x={67.3} y={302} fontSize={8.6} fontWeight={700} fill="#333" fontFamily={FONT}>JK413 (SC101 ori)</text>

            {/* panel letters */}
            <text x={55} y={23} {...panelLetter}>A</text>
            <text x={8} y={74} {...panelLetter}>B</text>
            <text x={226.7} y={74} {...panelLetter}>C</text>
            <text x={431.7} y={75} {...panelLetter}>D</text>
            <text x={63.3} y={260} {...panelLetter}>E</text>
            <text x={6.7} y={312} {...panelLetter}>F</text>
            <text x={223} y={312} {...panelLetter}>G</text>
            <text x={436} y={312} {...panelLetter}>H</text>

            {/* inset annotations */}
            <text x={545.7} y={17} fontSize={9.2} fontWeight={700} fill="#222" fontFamily={FONT}>μ = 8.6</text>
            <text x={545.7} y={28} fontSize={9.2} fontWeight={700} fill="#222" fontFamily={FONT}>σ = 5.5</text>
            <text x={545.7} y={263} fontSize={9.2} fontWeight={700} fill="#222" fontFamily={FONT}>μ = 9.2</text>
            <text x={545.7} y={274} fontSize={9.2} fontWeight={700} fill="#222" fontFamily={FONT}>σ = 5.3</text>
            <text x={543.5} y={75} fontSize={6.1} fontWeight={700} fill="#333" textAnchor="middle" fontFamily={FONT}>1st Corr Peak (generations)</text>
            <text x={541} y={322} fontSize={6.1} fontWeight={700} fill="#333" textAnchor="middle" fontFamily={FONT}>1st Corr Peak (generations)</text>
            <text transform="translate(493.5 34) rotate(-90)" fontSize={5.6} fontWeight={700} fill="#444" textAnchor="middle" fontFamily={FONT}>Counts</text>
            <text transform="translate(491.5 279) rotate(-90)" fontSize={5.6} fontWeight={700} fill="#444" textAnchor="middle" fontFamily={FONT}>Counts</text>
            <path d="M473 78.5 L503 60" stroke="#aaa" strokeWidth={0.8} strokeDasharray="3 2" fill="none" />
            <path d="M474 325 L502 308" stroke="#aaa" strokeWidth={0.8} strokeDasharray="3 2" fill="none" />

            {/* colour bar titles */}
            <text x={623} y={68} fontSize={10.6} fontWeight={700} fill="#222" fontFamily={FONT}>Counts</text>
            <text x={627} y={311} fontSize={10.6} fontWeight={700} fill="#222" fontFamily={FONT}>Counts</text>
        </svg>
    );
}

export default function App() {
    return (
        <div style={{ position: 'absolute', left: 0, top: 0, width: 669, height: 487, background: '#fff', overflow: 'hidden', filter: 'blur(0.4px)' }}>
            <SpaghettiPanel
                rect={[43.3, 78, 214, 213]}
                high={bOuterHigh}
                low={bOuterLow}
                innerHigh={bInnerHigh}
                innerLow={bInnerLow}
                traces={bTraces}
                lines={[
                    { color: '#7E2F8E', values: bPurple },
                    { color: '#0072BD', values: bBlue },
                    { color: '#EDB120', values: bYellow },
                    { color: '#4DBEEF', values: bCyan },
                ]}
                xLabelOffset={8}
            />
            <SpaghettiPanel
                rect={[42.7, 316, 214, 452]}
                high={fOuterHigh}
                low={fOuterLow}
                innerHigh={fInnerHigh}
                innerLow={fInnerLow}
                traces={fTraces}
                lines={[
                    { color: '#EDB120', values: fYellow },
                    { color: '#0072BD', values: fBlue },
                    { color: '#7E2F8E', values: fPurple },
                    { color: '#4DBEEF', values: fCyan },
                ]}
                xLabelOffset={5}
            />
            <DecayPanel rect={[256, 77.5, 427, 213]} yMin={-0.065} yfp={toRows(cYfpGens, cYfp)} rfp={toRows(cRfpGens, cRfp)} legendTop={45} xLabelOffset={8} />
            <DecayPanel rect={[255, 316, 427, 452.7]} yMin={-0.08} yfp={toRows(gYfpGens, gYfp)} rfp={toRows(gRfpGens, gRfp)} legendTop={44} xLabelOffset={5} />
            <HeatPanel rect={[466.7, 75, 617, 217]} xDomain={[-2.46, 32.4]} yDomain={[-0.313, 1.107]} counts={dCounts} max={102} cellW={8.62} cellH={9.98} xLabelOffset={11} yLabelOffset={20} />
            <HeatPanel rect={[467.3, 319.3, 620.7, 463.3]} xDomain={[-2.69, 32.6]} yDomain={[-0.325, 1.125]} counts={hCounts} max={124} cellW={8.73} cellH={10.05} xLabelOffset={15} yLabelOffset={21.7} />
            <ColorBar id="barD" left={632.7} top={69.3} width={9} height={141.7} max={101.7} ticks={dBarTicks} />
            <ColorBar id="barH" left={636} top={313.3} width={9} height={143.4} max={124} ticks={hBarTicks} />
            <Inset rect={[509.3, 3.3, 577.3, 60.3]} gens={histGens} counts={dHist} yMax={200} ticks={dHistTicks} />
            <Inset rect={[507.7, 250, 577.3, 307.7]} gens={histGens} counts={hHist} yMax={250} ticks={hHistTicks} />
            <Overlay />
        </div>
    );
}
